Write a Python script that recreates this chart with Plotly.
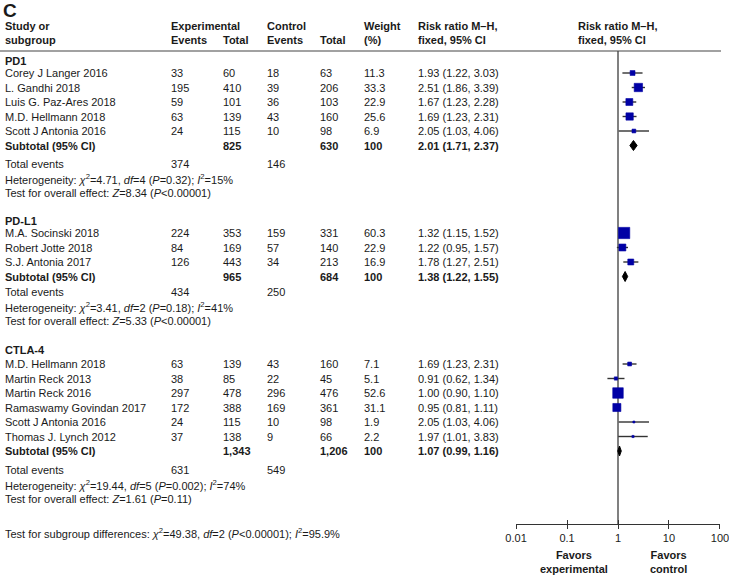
import math
import plotly.graph_objects as go

# ---------------- data ----------------
groups = ["PD1", "PD-L1", "CTLA-4"]

studies = [
    ["Corey J Langer 2016", "L. Gandhi 2018", "Luis G. Paz-Ares 2018", "M.D. Hellmann 2018", "Scott J Antonia 2016"],
    ["M.A. Socinski 2018", "Robert Jotte 2018", "S.J. Antonia 2017"],
    ["M.D. Hellmann 2018", "Martin Reck 2013", "Martin Reck 2016", "Ramaswamy Govindan 2017",
     "Scott J Antonia 2016", "Thomas J. Lynch 2012"],
]
exp_events = [[33, 195, 59, 63, 24], [224, 84, 126], [63, 38, 297, 172, 24, 37]]
exp_total = [[60, 410, 101, 139, 115], [353, 169, 443], [139, 85, 478, 388, 115, 138]]
ctl_events = [[18, 39, 36, 43, 10], [159, 57, 34], [43, 22, 296, 169, 10, 9]]
ctl_total = [[63, 206, 103, 160, 98], [331, 140, 213], [160, 45, 476, 361, 98, 66]]
weights = [[11.3, 33.3, 22.9, 25.6, 6.9], [60.3, 22.9, 16.9], [7.1, 5.1, 52.6, 31.1, 1.9, 2.2]]
rr = [[1.93, 2.51, 1.67, 1.69, 2.05], [1.32, 1.22, 1.78], [1.69, 0.91, 1.00, 0.95, 2.05, 1.97]]
rr_lo = [[1.22, 1.86, 1.23, 1.23, 1.03], [1.15, 0.95, 1.27], [1.23, 0.62, 0.90, 0.81, 1.03, 1.01]]
rr_hi = [[3.03, 3.39, 2.28, 2.31, 4.06], [1.52, 1.57, 2.51], [2.31, 1.34, 1.10, 1.11, 4.06, 3.83]]

sub_exp_total = [825, 965, 1343]
sub_ctl_total = [630, 684, 1206]
sub_rr = [2.01, 1.38, 1.07]
sub_lo = [1.71, 1.22, 0.99]
sub_hi = [2.37, 1.55, 1.16]
tot_exp_events = [374, 434, 631]
tot_ctl_events = [146, 250, 549]
het_chi2 = ["4.71", "3.41", "19.44"]
het_df = [4, 2, 5]
het_p = ["=0.32", "=0.18", "=0.002"]
het_i2 = [15, 41, 74]
z_val = ["8.34", "5.33", "1.61"]
z_p = ["<0.00001", "<0.00001", "=0.11"]

tick_vals = [0.01, 0.1, 1, 10, 100]
tick_text = ["0.01", "0.1", "1", "10", "100"]
favors_labels = ["Favors<br>experimental", "Favors<br>control"]
favors_at = [0.137, 9.6]   # risk-ratio position of the label centres

# ---------------- layout constants ----------------
W, H = 729, 575
TXT = "#1a1a1a"
FONT = "Liberation Sans, Arial, sans-serif"
FS = 11
BLUE = "rgb(0,0,165)"
LINE = "#333333"

group_header_y = [61, 221, 350]
first_offset = [12, 12, 14]
step = 14.5
te_gap = [18.5, 15.5, 19]
header_line_y = 51
axis_y = 524

col_study = 4
col_ee, col_et, col_ce, col_ct = 170, 222, 266, 319
col_w, col_rr = 363, 417
col_plot_hdr = 577


def px(x):
    return x / W


annotations = []


def txt(x, y, s, bold=False, size=FS, anchor="left"):
    if bold:
        s = "<b>" + s + "</b>"
    annotations.append(dict(
        x=px(x), y=y, xref="paper", yref="y", text=s, showarrow=False,
        xanchor=anchor, yanchor="middle", align=anchor,
        font=dict(family=FONT, size=size, color=TXT), borderpad=0,
    ))


def fmt(n):
    return f"{n:,}"


fig = go.Figure()

# headers
annotations.append(dict(x=px(1), y=10, xref="paper", yref="y", text="<b>C</b>", showarrow=False,
                        xanchor="left", yanchor="middle", font=dict(family=FONT, size=19, color=TXT)))
txt(col_study, 26, "Study or", bold=True)
txt(col_study, 40, "subgroup", bold=True)
txt(col_ee, 26, "Experimental", bold=True)
txt(col_ee, 40, "Events", bold=True)
txt(col_et, 40, "Total", bold=True)
txt(col_ce, 26, "Control", bold=True)
txt(col_ce, 40, "Events", bold=True)
txt(col_ct, 40, "Total", bold=True)
txt(col_w, 26, "Weight", bold=True)
txt(col_w, 40, "(%)", bold=True)
txt(col_rr, 26, "Risk ratio M–H,", bold=True)
txt(col_rr, 40, "fixed, 95% CI", bold=True)
txt(col_plot_hdr, 26, "Risk ratio M–H,", bold=True)
txt(col_plot_hdr, 40, "fixed, 95% CI", bold=True)

ci_x, ci_y = [], []
sq_x, sq_y, sq_s = [], [], []

for g in range(len(groups)):
    y = group_header_y[g]
    txt(col_study, y, groups[g], bold=True)
    y += first_offset[g]
    for i, name in enumerate(studies[g]):
        txt(col_study, y, name)
        txt(col_ee, y, fmt(exp_events[g][i]))
        txt(col_et, y, fmt(exp_total[g][i]))
        txt(col_ce, y, fmt(ctl_events[g][i]))
        txt(col_ct, y, fmt(ctl_total[g][i]))
        txt(col_w, y, f"{weights[g][i]}")
        txt(col_rr, y, f"{rr[g][i]:.2f} ({rr_lo[g][i]:.2f}, {rr_hi[g][i]:.2f})")
        ci_x += [rr_lo[g][i], rr_hi[g][i], None]
        ci_y += [y, y, None]
        sq_x.append(rr[g][i])
        sq_y.append(y)
        sq_s.append(1.45 * math.sqrt(weights[g][i]))
        y += step
    # subtotal
    txt(col_study, y, "Subtotal (95% CI)", bold=True)
    txt(col_et, y, fmt(sub_exp_total[g]), bold=True)
    txt(col_ct, y, fmt(sub_ctl_total[g]), bold=True)
    txt(col_w, y, "100", bold=True)
    txt(col_rr, y, f"{sub_rr[g]:.2f} ({sub_lo[g]:.2f}, {sub_hi[g]:.2f})", bold=True)
    hh = 5
    fig.add_trace(go.Scatter(
        x=[sub_lo[g], sub_rr[g], sub_hi[g], sub_rr[g], sub_lo[g]],
        y=[y, y - hh, y, y + hh, y],
        mode="lines", fill="toself", fillcolor="black",
        line=dict(color="black", width=1), hoverinfo="skip", showlegend=False))
    y += te_gap[g]
    txt(col_study, y, "Total events")
    txt(col_ee, y, fmt(tot_exp_events[g]))
    txt(col_ce, y, fmt(tot_ctl_events[g]))
    y += step
    txt(col_study, y, f"Heterogeneity: <i>χ</i><sup>2</sup>={het_chi2[g]}, <i>df</i>={het_df[g]} "
                      f"(<i>P</i>{het_p[g]}); <i>I</i><sup>2</sup>={het_i2[g]}%")
    y += step
    txt(col_study, y, f"Test for overall effect: <i>Z</i>={z_val[g]} (<i>P</i>{z_p[g]})")

txt(col_study, 533, "Test for subgroup differences: <i>χ</i><sup>2</sup>=49.38, <i>df</i>=2 "
                    "(<i>P</i><0.00001); <i>I</i><sup>2</sup>=95.9%")

# favors labels (annotation x on a log axis is given in log10 units)
for lab, at in zip(favors_labels, favors_at):
    annotations.append(dict(x=math.log10(at), y=562, xref="x", yref="y", text="<b>" + lab + "</b>",
                            showarrow=False, xanchor="center", yanchor="middle", align="center",
                            font=dict(family=FONT, size=FS, color=TXT)))

# CI lines
fig.add_trace(go.Scatter(x=ci_x, y=ci_y, mode="lines", line=dict(color=LINE, width=1.4),
                         hoverinfo="skip", showlegend=False))
# squares
fig.add_trace(go.Scatter(x=sq_x, y=sq_y, mode="markers",
                         marker=dict(symbol="square", size=sq_s, color=BLUE, opacity=1,
                                     line=dict(width=0.6, color=BLUE)),
                         hoverinfo="skip", showlegend=False))
# invisible trace for second x axis (inner ticks)
fig.add_trace(go.Scatter(x=[1], y=[axis_y], xaxis="x2", yaxis="y", mode="markers",
                         marker=dict(size=1, opacity=0), hoverinfo="skip", showlegend=False))

shapes = [
    dict(type="line", xref="paper", yref="y", x0=0, x1=px(721), y0=header_line_y, y1=header_line_y,
         line=dict(color="#444444", width=1.2)),
    dict(type="line", xref="x", yref="y", x0=1, x1=1, y0=header_line_y, y1=axis_y,
         line=dict(color="#808080", width=2), layer="below"),
]

dom = [px(516), px(720)]
rng = [-2.001, 2.001]
pos = (H - axis_y) / H
fig.update_layout(
    width=W, height=H,
    margin=dict(l=0, r=0, t=0, b=0, autoexpand=False),
    paper_bgcolor="white", plot_bgcolor="white",
    showlegend=False,
    xaxis=dict(type="log", range=rng, domain=dom, anchor="free", position=pos,
               tickvals=tick_vals, ticktext=tick_text, ticks="outside", ticklen=4, tickwidth=1.3,
               tickcolor=LINE, showline=True, linecolor=LINE, linewidth=1.3,
               showgrid=False, zeroline=False, fixedrange=True, automargin=False,
               ticklabeloverflow="allow",
               tickfont=dict(family=FONT, size=FS, color=TXT)),
    xaxis2=dict(type="log", range=rng, domain=dom, anchor="free", position=pos,
                overlaying="x", tickvals=tick_vals,
                ticks="inside", ticklen=4, tickwidth=1.3,
                tickcolor=LINE, showticklabels=False, showline=False, showgrid=False, zeroline=False,
                automargin=False, fixedrange=True),
    yaxis=dict(range=[H, 0], domain=[0, 1], visible=False, fixedrange=True, automargin=False),
    annotations=annotations,
    shapes=shapes,
)

fig.write_html("out.html", config={"displayModeBar": False},
               post_script="document.body.style.margin='0';document.body.style.padding='0';")
